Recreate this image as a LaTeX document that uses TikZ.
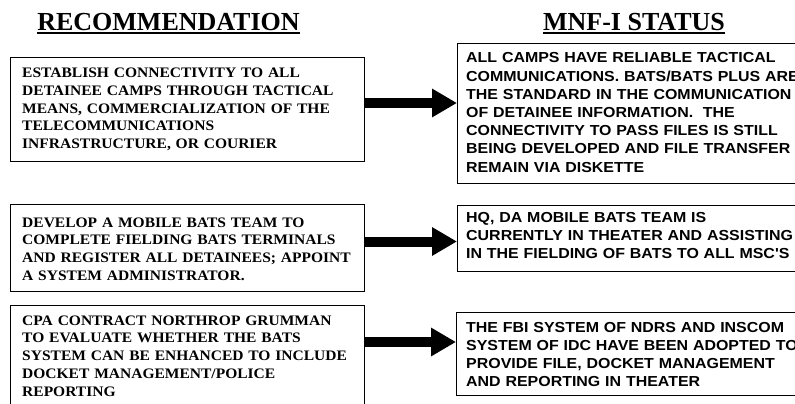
\documentclass[tikz,border=0pt]{standalone}
\usepackage{fontspec}
\setmainfont{Liberation Serif}
\newfontfamily\lfont[FakeStretch=1.07]{Liberation Serif}
\newfontfamily\rfont[FakeStretch=1.1]{Liberation Sans}
\usetikzlibrary{arrows.meta}
\begin{document}
\begin{tikzpicture}[x=1pt,y=-1pt,
  box/.style={draw, line width=1.2pt, anchor=north west, inner sep=0pt},
  ltext/.style={anchor=base west, inner sep=0pt, align=left, text width=345pt,
    font=\fontsize{14.5}{17.8}\lfont\bfseries},
  rtext/.style={anchor=base west, inner sep=0pt, align=left, text width=345pt,
    font=\fontsize{14.5}{18.2}\rfont\bfseries},
  title/.style={anchor=base, inner sep=0pt, font=\fontsize{26}{30}\selectfont\bfseries},
  uline/.style={line width=2pt},
  bigarrow/.style={line width=10pt, -{Triangle[length=25pt,width=27pt]}}
]
\useasboundingbox (0,0) rectangle (795,404);
\fill[white] (0,0) rectangle (795,404);
\clip (0,0) rectangle (795,404);

% titles
\node[title] (t1) at (168.5,30.5) {RECOMMENDATION};
\node[title] (t2) at (634,30.5) {MNF-I STATUS};
\draw[uline] ([yshift=-3pt]t1.base west) -- ([yshift=-3pt]t1.base east);
\draw[uline] ([yshift=-3pt]t2.base west) -- ([yshift=-3pt]t2.base east);

% left boxes
\node[box, minimum width=354pt, minimum height=104pt] (L1) at (10,57) {};
\node[box, minimum width=354pt, minimum height=87pt] (L2) at (10,204) {};
\node[box, minimum width=354pt, minimum height=110pt] (L3) at (10,305) {};

% right boxes
\node[box, minimum width=350pt, minimum height=140pt] (R1) at (457,43) {};
\node[box, minimum width=350pt, minimum height=66pt] (R2) at (457,205) {};
\node[box, minimum width=350pt, minimum height=83pt] (R3) at (456,312) {};

% left texts
\node[ltext] (L1t) at (22,77.5) {ESTABLISH CONNECTIVITY TO ALL\\
DETAINEE CAMPS THROUGH TACTICAL\\
MEANS, COMMERCIALIZATION OF THE\\
TELECOMMUNICATIONS\\
INFRASTRUCTURE, OR COURIER};
\node[ltext] (L2t) at (22,227) {DEVELOP A MOBILE BATS TEAM TO\\
COMPLETE FIELDING BATS TERMINALS\\
AND REGISTER ALL DETAINEES; APPOINT\\
A SYSTEM ADMINISTRATOR.};
\node[ltext] (L3t) at (22,325) {CPA CONTRACT NORTHROP GRUMMAN\\
TO EVALUATE WHETHER THE BATS\\
SYSTEM CAN BE ENHANCED TO INCLUDE\\
DOCKET MANAGEMENT/POLICE\\
REPORTING};

% right texts
\node[rtext] (R1t) at (466,63) {ALL CAMPS HAVE RELIABLE TACTICAL\\
COMMUNICATIONS. BATS/BATS PLUS ARE\\
THE STANDARD IN THE COMMUNICATION\\
OF DETAINEE INFORMATION.\ \ THE\\
CONNECTIVITY TO PASS FILES IS STILL\\
BEING DEVELOPED AND FILE TRANSFER\\
REMAIN VIA DISKETTE};
\node[rtext] (R2t) at (466,222) {HQ, DA MOBILE BATS TEAM IS\\
CURRENTLY IN THEATER AND ASSISTING\\
IN THE FIELDING OF BATS TO ALL MSC'S};
\node[rtext] (R3t) at (466,332) {THE FBI SYSTEM OF NDRS AND INSCOM\\
SYSTEM OF IDC HAVE BEEN ADOPTED TO\\
PROVIDE FILE, DOCKET MANAGEMENT\\
AND REPORTING IN THEATER};

% arrows
\draw[bigarrow] (L1.east |- 0,103) -- (R1.west |- 0,103);
\draw[bigarrow] (L2.east |- 0,241.5) -- (R2.west |- 0,241.5);
\draw[bigarrow] (L3.east |- 0,342) -- (R3.west |- 0,342);
\end{tikzpicture}
\end{document}
